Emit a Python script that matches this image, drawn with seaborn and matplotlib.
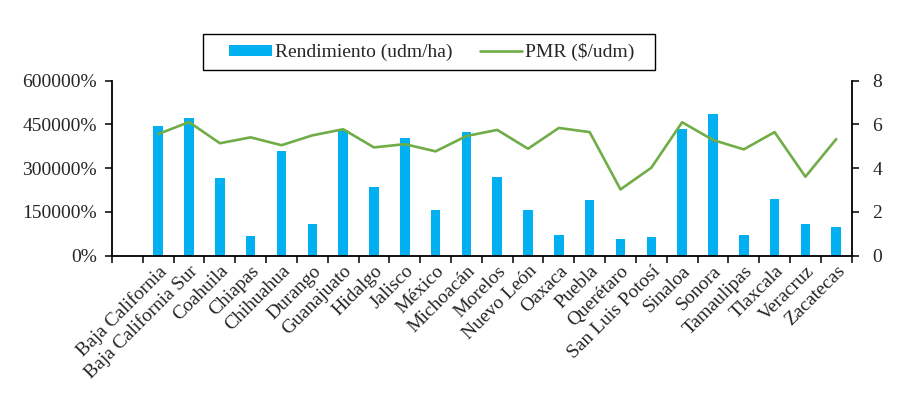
import numpy as np
import pandas as pd
import matplotlib
matplotlib.use("Agg")
import matplotlib.pyplot as plt
import seaborn as sns
from matplotlib.ticker import FuncFormatter, FixedLocator
from matplotlib.patches import Patch, Rectangle
from matplotlib.lines import Line2D

# datos por estado
estados = ["Baja California", "Baja California Sur", "Coahuila", "Chiapas", "Chihuahua",
           "Durango", "Guanajuato", "Hidalgo", "Jalisco", "México", "Michoacán", "Morelos",
           "Nuevo León", "Oaxaca", "Puebla", "Querétaro", "San Luis Potosí", "Sinaloa",
           "Sonora", "Tamaulipas", "Tlaxcala", "Veracruz", "Zacatecas"]
rendimiento = [4447, 4721, 2664, 675, 3590, 1087, 4310, 2355, 4035, 1567, 4241, 2698,
               1567, 710, 1910, 573, 641, 4344, 4858, 710, 1944, 1087, 984]
pmr = [5.56, 6.11, 5.14, 5.41, 5.05, 5.50, 5.78, 4.95, 5.10, 4.77, 5.47, 5.75,
       4.89, 5.84, 5.65, 3.03, 4.02, 6.10, 5.29, 4.86, 5.65, 3.61, 5.33]

df = pd.DataFrame({"Estado": estados, "Rendimiento": rendimiento, "PMR": pmr})

sns.set_style("white")
plt.rcParams['font.family'] = ['Liberation Serif', 'DejaVu Serif']
plt.rcParams['font.size'] = 14

azul = "#00B0F0"
verde = "#70AD47"

fig = plt.figure(figsize=(9.12, 3.95), dpi=100)
ax = fig.add_axes([0.1228, 0.3527, 0.811, 0.443])

sns.barplot(data=df, x="Estado", y="Rendimiento", color=azul, width=0.31,
            saturation=1, linewidth=0, ax=ax)
ax2 = ax.twinx()
sns.lineplot(data=df, x="Estado", y="PMR", color=verde, linewidth=1.9,
             sort=False, ax=ax2)

# hueco vacio al inicio como en el original
ax.set_xlim(-1.5, len(estados) - 0.5)
ax.set_ylim(0, 6000)
ax.set_yticks(np.arange(0, 6001, 1500))
ax.yaxis.set_major_formatter(FuncFormatter(lambda v, p: f"{v*100:.0f}%"))
ax2.set_ylim(0, 8)
ax2.set_yticks([0, 2, 4, 6, 8])

ax.xaxis.set_major_locator(FixedLocator(np.arange(-1.5, len(estados))))
ax.xaxis.set_minor_locator(FixedLocator(np.arange(len(estados))))
ax.set_xticklabels([], minor=False)
ax.set_xticklabels(estados, minor=True, rotation=45, ha="right",
                   rotation_mode="anchor")
ax.tick_params(axis="x", which="major", direction="out", length=5, width=1.3,
               bottom=True)
ax.tick_params(axis="x", which="minor", length=0, pad=5, labelsize=14)
ax.tick_params(axis="y", direction="out", length=5, width=1.3, left=True,
               labelsize=14, pad=6)
ax2.tick_params(axis="y", direction="out", length=5, width=1.3, right=True,
                labelsize=14, pad=10)

ax.set_xlabel("")
ax.set_ylabel("")
ax2.set_ylabel("")
for a in (ax, ax2):
    a.spines["top"].set_visible(False)
    for s in ("left", "bottom", "right"):
        a.spines[s].set_color("black")
        a.spines[s].set_linewidth(1.3)
ax.spines["right"].set_visible(False)
ax2.spines["left"].set_visible(False)
ax2.spines["bottom"].set_visible(False)

# leyenda con marco propio (mas ancho que el de matplotlib)
handles = [Patch(facecolor=azul, edgecolor="none"),
           Line2D([0], [0], color=verde, linewidth=1.9)]
leg = fig.legend(handles, ["Rendimiento (udm/ha)", "PMR ($/udm)"], ncol=2,
                 loc="center", bbox_to_anchor=(0.4737, 0.868), frameon=False,
                 handlelength=2.2, handleheight=0.5, handletextpad=0.15,
                 columnspacing=1.4, borderpad=0.45, borderaxespad=0, fontsize=14)
fig.patches.append(Rectangle((0.2226, 0.8228), 0.4956, 0.0911, transform=fig.transFigure,
                             fill=False, edgecolor="black", linewidth=1.0))

fig.savefig("out.png", dpi=100)
